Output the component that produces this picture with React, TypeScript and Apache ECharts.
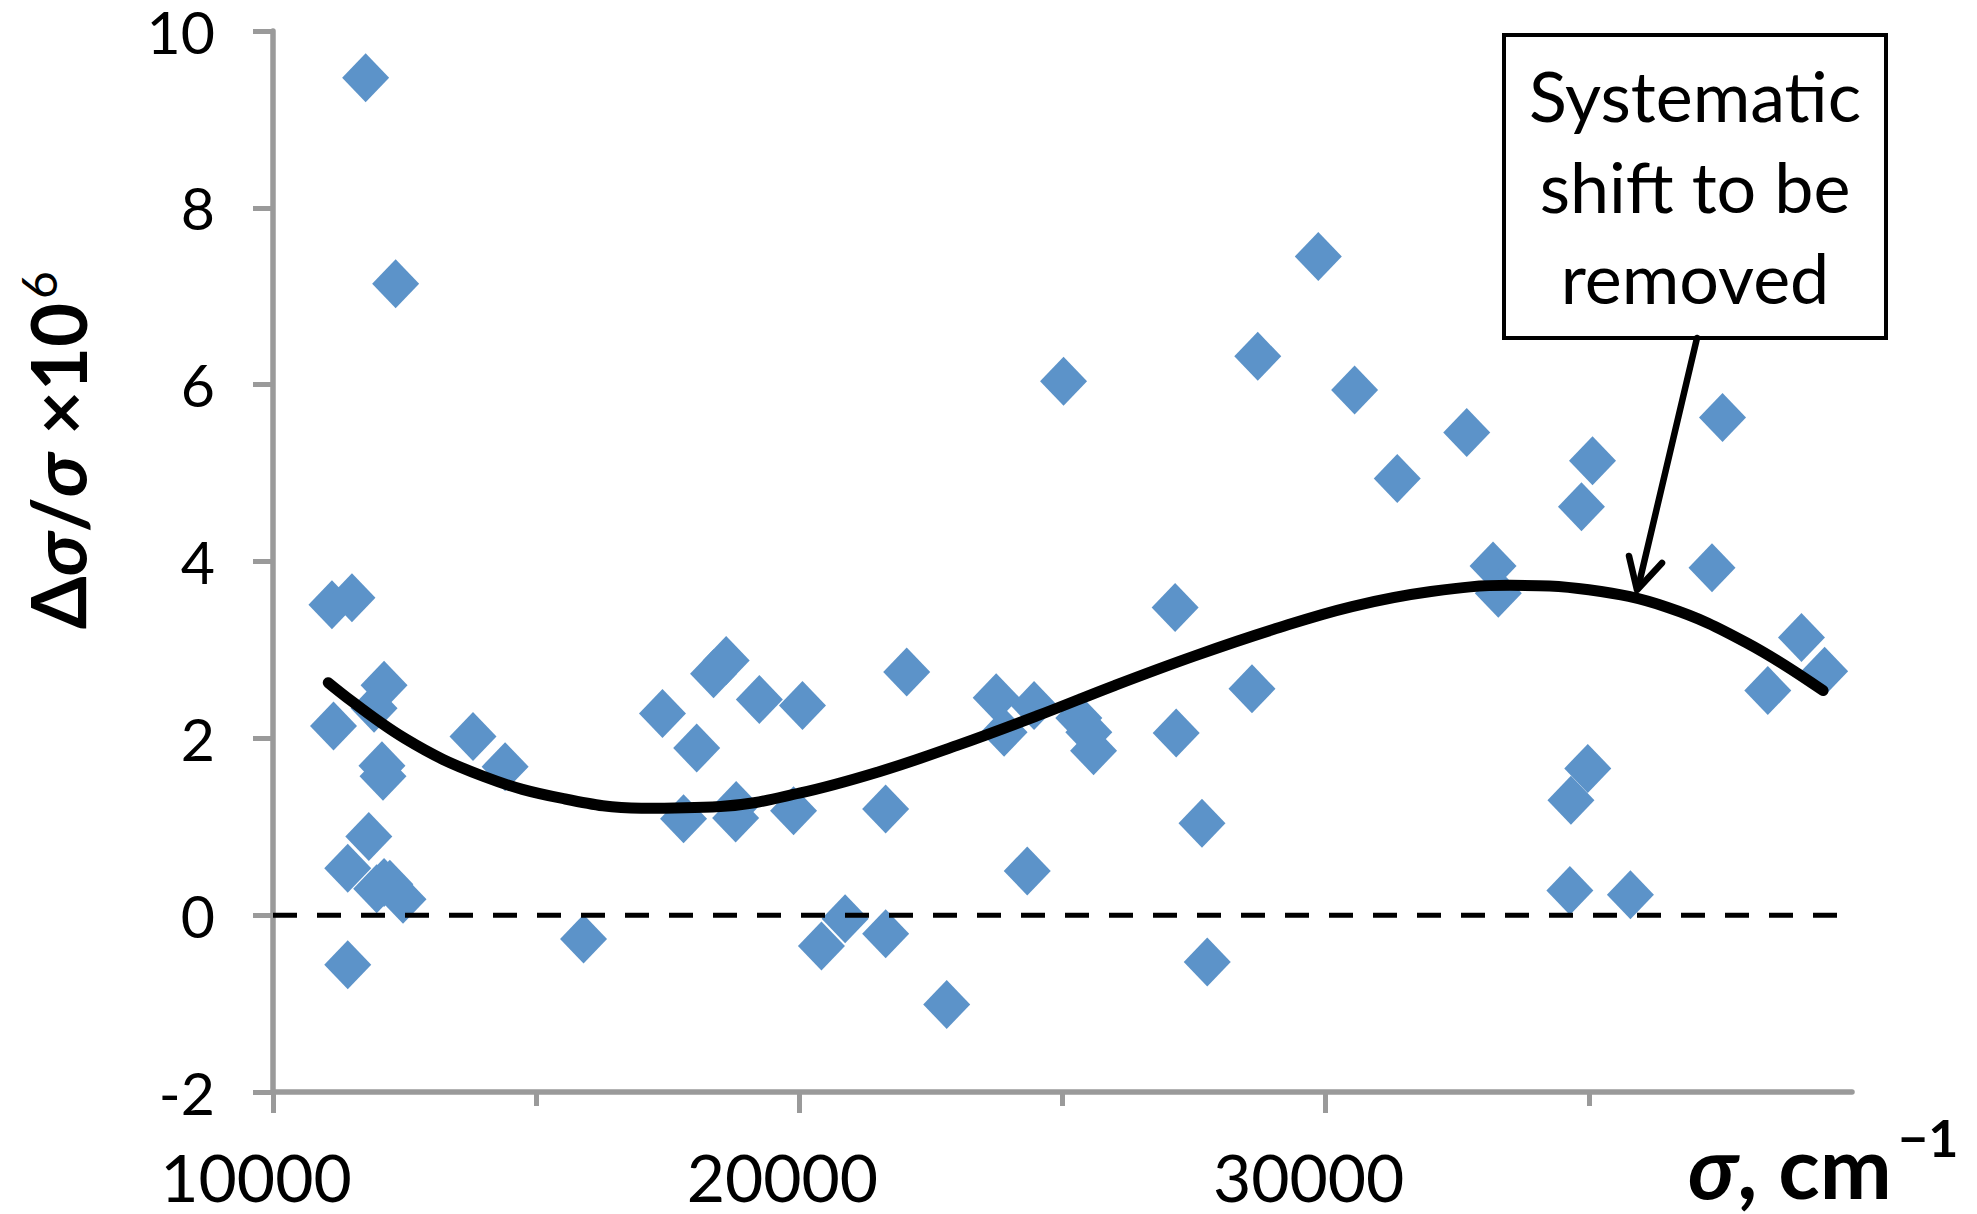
import React, { useEffect, useRef } from "react";
import * as echarts from "echarts";

// Measured points: wavenumber (cm^-1) and relative deviation Δσ/σ ×10^6
const pointX = [
  11760, 12330, 11120, 11500, 12110, 11920, 11150, 12070, 12090, 11820,
  11420, 11970, 12110, 12220, 12470, 11420, 13800, 14410, 15900,
  17400, 17800, 18050, 18370, 18610, 18800, 18790, 19240, 19890, 20060,
  20420, 20870, 21640, 21640, 22040, 22800, 23740, 23890, 24330, 24460,
  25310, 25500, 25590, 27140, 27160, 27650, 27750, 28600,
  25020, 28710, 29860, 30550, 31360, 32680, 33180, 33280,
  34860, 35070, 37340, 37540, 38400, 39040, 39480, 34980, 34660, 34640, 35790,
];
const pointY = [
  9.47, 7.14, 3.51, 3.59, 2.6, 2.34, 2.14, 1.69, 1.57, 0.89,
  0.53, 0.3, 0.37, 0.35, 0.18, -0.56, 2.02, 1.68, -0.27,
  2.28, 1.09, 1.89, 2.73, 2.88, 1.24, 1.1, 2.44, 1.18, 2.37,
  -0.35, -0.04, 1.2, -0.21, 2.75, -1.01, 2.46, 2.07, 0.5, 2.37,
  2.23, 2.07, 1.86, 3.48, 2.06, 1.04, -0.53, 2.56,
  6.04, 6.32, 7.45, 5.94, 4.94, 5.46, 3.95, 3.64,
  4.62, 5.14, 3.93, 5.63, 2.54, 3.14, 2.76, 1.66, 1.3, 0.28, 0.23,
];

// Systematic-shift trend curve
const trendX = [
  11050, 12500, 14000, 15500, 17000, 18500, 20000, 21500, 23000, 24500,
  26000, 27500, 29000, 30500, 32000, 33500, 35000, 36500, 38000, 39450,
];
const trendY = [
  2.63, 2.0, 1.57, 1.32, 1.21, 1.23, 1.38, 1.62, 1.92, 2.25,
  2.6, 2.93, 3.23, 3.49, 3.66, 3.73, 3.68, 3.48, 3.08, 2.54,
];

// Zero reference line
const zeroX = [10000, 40000];
const zeroY = [0, 0];

const xMin = 10000;
const xMax = 40000;
const yMin = -2;
const yMax = 10;

const annotationLines = ["Systematic", "shift to be", "removed"];

const FONT = "Lato, 'Noto Sans', 'DejaVu Sans', sans-serif";
const AXIS_GRAY = "#9a9a9a";

export default function App() {
  const ref = useRef<HTMLDivElement>(null);

  useEffect(() => {
    if (!ref.current) return;
    const chart = echarts.init(ref.current, null, { renderer: "svg" });

    const option: any = {
      animation: false,
      backgroundColor: "#ffffff",
      grid: {
        left: 273,
        right: 125,
        top: 31,
        bottom: 122,
        containLabel: false,
        outerBoundsMode: "none",
      },
      xAxis: {
        type: "value",
        min: xMin,
        max: xMax,
        interval: 10000,
        splitLine: { show: false },
        axisLine: {
          show: true,
          onZero: false,
          lineStyle: { color: AXIS_GRAY, width: 5.5 },
        },
        axisTick: {
          show: true,
          length: 21,
          customValues: [10000, 20000, 30000],
          lineStyle: { color: AXIS_GRAY, width: 5 },
        },
        minorTick: {
          show: true,
          splitNumber: 2,
          length: 14,
          lineStyle: { color: AXIS_GRAY, width: 5 },
        },
        axisLabel: {
          show: true,
          margin: 58,
          color: "#000",
          fontFamily: FONT,
          fontSize: 66,
          lineHeight: 52,
          padding: [0, 34, 0, 0],
          formatter: (v: number) => (v >= 40000 ? "" : String(v)),
        },
      },
      yAxis: {
        type: "value",
        min: yMin,
        max: yMax,
        interval: 2,
        splitLine: { show: false },
        axisLine: {
          show: true,
          onZero: false,
          lineStyle: { color: AXIS_GRAY, width: 5.5 },
        },
        axisTick: {
          show: true,
          length: 20,
          lineStyle: { color: AXIS_GRAY, width: 5 },
        },
        axisLabel: {
          show: true,
          margin: 58,
          color: "#000",
          fontFamily: FONT,
          fontSize: 59,
          lineHeight: 40,
          padding: [8, 0, 0, 0],
        },
      },
      series: [
        {
          type: "scatter",
          name: "data",
          symbol: "diamond",
          symbolSize: [47, 49],
          itemStyle: { color: "#5c93c9", opacity: 1 },
          data: pointX.map((x, i) => [x, pointY[i]]),
          z: 2,
        },
        {
          type: "line",
          name: "trend",
          smooth: 0.4,
          showSymbol: false,
          symbol: "none",
          lineStyle: { color: "#000", width: 11, cap: "round", join: "round" },
          data: trendX.map((x, i) => [x, trendY[i]]),
          z: 4,
        },
        {
          type: "line",
          name: "zero",
          showSymbol: false,
          symbol: "none",
          lineStyle: { color: "#000", width: 5, type: [24, 20] },
          data: zeroX.map((x, i) => [x, zeroY[i]]),
          z: 3,
        },
      ],
      graphic: [
        // y-axis title
        {
          type: "text",
          x: 57,
          y: 466,
          rotation: Math.PI / 2,
          style: {
            text: "{d|Δ}{i|σ}{d|/}{i|σ}{d| ×10}",
            rich: {
              d: { fontFamily: FONT, fontSize: 76, fontWeight: "bold", fill: "#000" },
              i: { fontFamily: FONT, fontSize: 76, fontWeight: "bold", fontStyle: "italic", fill: "#000" },
            },
            textAlign: "center",
            align: "center",
            textVerticalAlign: "middle",
            verticalAlign: "middle",
          },
          z: 10,
        },
        {
          type: "text",
          x: 38,
          y: 285,
          rotation: Math.PI / 2,
          style: {
            text: "6",
            fontFamily: FONT,
            fontSize: 48,
            fill: "#000",
            textAlign: "center",
            align: "center",
            textVerticalAlign: "middle",
            verticalAlign: "middle",
          },
          z: 10,
        },
        // x-axis title
        {
          type: "text",
          x: 1688,
          y: 1165,
          style: {
            text: "{i|σ}{d|, cm}",
            rich: {
              d: { fontFamily: FONT, fontSize: 86, lineHeight: 64, fontWeight: "bold", fill: "#000" },
              i: { fontFamily: FONT, fontSize: 86, lineHeight: 64, fontWeight: "bold", fontStyle: "italic", fill: "#000" },
            },
            textAlign: "left",
            align: "left",
            textVerticalAlign: "middle",
            verticalAlign: "middle",
          },
          z: 10,
        },
        {
          type: "text",
          x: 1898,
          y: 1137,
          style: {
            text: "−1",
            fontFamily: FONT,
            fontSize: 52,
            lineHeight: 52,
            fontWeight: "bold",
            fill: "#000",
            textAlign: "left",
            align: "left",
            textVerticalAlign: "middle",
            verticalAlign: "middle",
          },
          z: 10,
        },
        // annotation box
        {
          type: "rect",
          shape: { x: 1504, y: 35, width: 382, height: 303 },
          style: { fill: "#fff", stroke: "#000", lineWidth: 4 },
          z: 20,
        },
        {
          type: "text",
          x: 1695,
          y: 186,
          style: {
            text: annotationLines.join("\n"),
            fontFamily: FONT,
            fontSize: 70,
            lineHeight: 91,
            fill: "#000",
            textAlign: "center",
            align: "center",
            textVerticalAlign: "middle",
            verticalAlign: "middle",
          },
          z: 21,
        },
        // arrow
        {
          type: "line",
          shape: { x1: 1697, y1: 338, x2: 1638, y2: 588 },
          style: { stroke: "#000", lineWidth: 6.5, lineCap: "round" },
          z: 20,
        },
        {
          type: "polyline",
          shape: { points: [[1629, 556], [1637, 590], [1662, 563]] },
          style: { stroke: "#000", fill: "none", lineWidth: 6.5, lineCap: "round", lineJoin: "round" },
          z: 20,
        },
      ],
    };

    chart.setOption(option);
    return () => chart.dispose();
  }, []);

  return (
    <div
      ref={ref}
      style={{ position: "fixed", left: 0, top: 0, width: 1977, height: 1214, background: "#fff" }}
    />
  );
}
